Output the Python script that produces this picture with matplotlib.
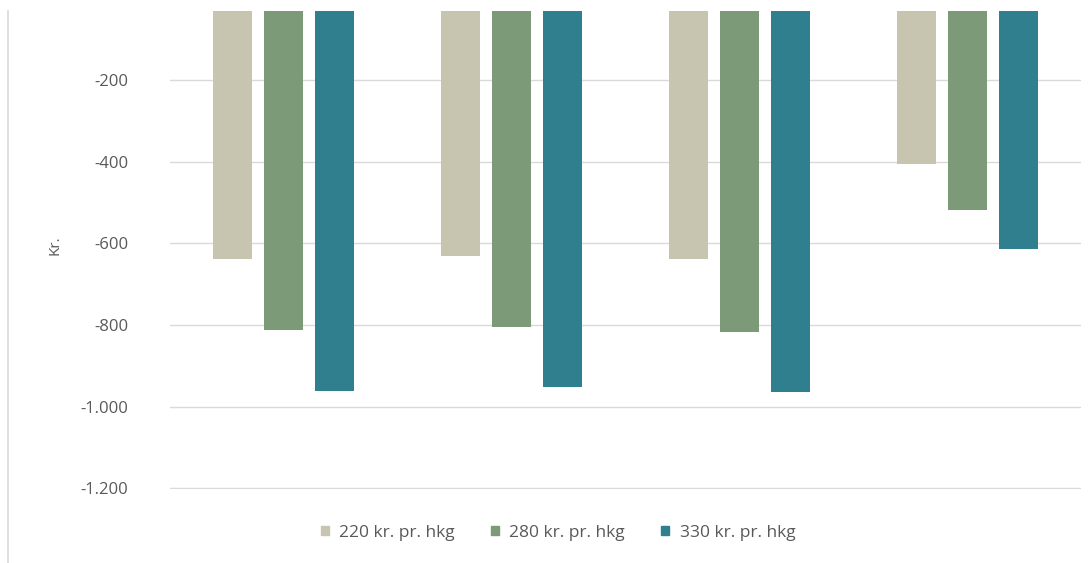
import matplotlib
matplotlib.use('Agg')
import matplotlib.pyplot as plt
from matplotlib.patches import Patch
from matplotlib.lines import Line2D
import matplotlib.ticker as mticker
import numpy as np

#######################################
# Data
#######################################
series = ['220 kr. pr. hkg', '280 kr. pr. hkg', '330 kr. pr. hkg']
vals_220 = [-638, -630, -638, -406]
vals_280 = [-812, -806, -817, -518]
vals_330 = [-961, -951, -964, -614]
yticks = [-200, -400, -600, -800, -1000, -1200]

colors = ['#C7C5AF', '#7C9A78', '#2F7F8E']
txtcol = '#595959'
gridcol = '#D9D9D9'

plt.rcParams['font.family'] = ['Open Sans', 'DejaVu Sans']

#######################################
# Figure
#######################################
fig = plt.figure(figsize=[10.92, 5.63], dpi=100)
ax = fig.add_axes([0.1557, 0.1314, 0.8342, 0.8491])

x = np.arange(len(vals_220))
w = 0.171
step = 0.224
for i, v in enumerate([vals_220, vals_280, vals_330]):
	ax.bar(x + (i-1)*step, v, w, color=colors[i], zorder=2)

ax.set_xlim(-0.5, len(x)-0.5)
ax.set_ylim(-1202, -31)
ax.set_yticks(yticks)
ax.yaxis.set_major_formatter(mticker.FuncFormatter(lambda v, p: '{:,.0f}'.format(v).replace(',', '.')))
ax.set_xticks([])
ax.tick_params(axis='y', length=0, pad=30, labelsize=12, labelcolor=txtcol)
ax.grid(axis='y', color=gridcol, lw=1, zorder=0)
for s in ax.spines.values():
	s.set_visible(False)

fig.text(55/1092, 1-245/563, 'Kr.', rotation=90, ha='center', va='center', fontsize=11, color=txtcol)

# Chart border on the left
fig.add_artist(Line2D([7.5/1092, 7.5/1092], [0, 0.9805], color=gridcol, lw=1.2, transform=fig.transFigure))

# Legend
handles = [Patch(color=c) for c in colors]
fig.legend(handles, series, loc='center', bbox_to_anchor=(0.511, 1-533/563), ncol=3,
	frameon=False, fontsize=12.5, labelcolor=txtcol, handlelength=0.45, handleheight=0.45,
	handletextpad=0.6, columnspacing=2.1)

plt.savefig('out.png', dpi=100)
